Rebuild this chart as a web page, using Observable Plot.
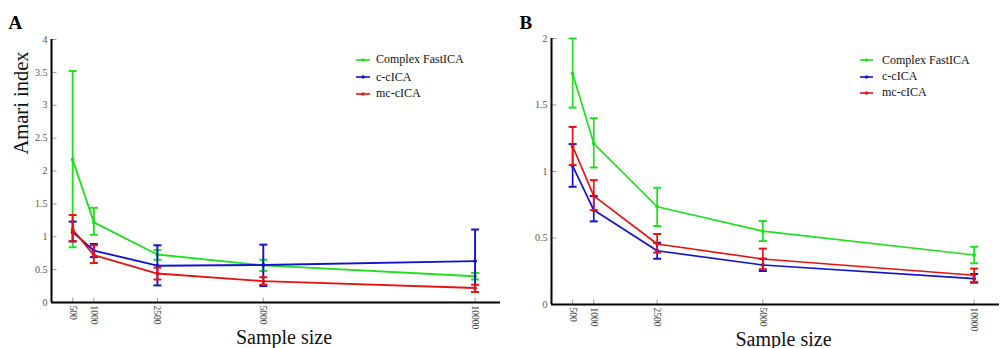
<!DOCTYPE html>
<html>
<head>
<meta charset="utf-8">
<script src="https://cdn.jsdelivr.net/npm/d3@7"></script>
<script src="https://cdn.jsdelivr.net/npm/@observablehq/plot@0.6"></script>
<style>
  html, body { margin: 0; padding: 0; background: #fff; }
  #wrap { position: relative; width: 1008px; height: 348px; overflow: hidden; font-family: "Liberation Serif", serif; }
  .panel { position: absolute; top: 0; }
  .legend { position: absolute; font-family: "Liberation Serif", serif; font-size: 12px; color: #111; }
  .legend .row { position: absolute; left: 0; height: 14px; white-space: nowrap; display: flex; align-items: center; }
  .legend span { font-family: "Liberation Serif", serif; }
  .legend svg { display: block; }
</style>
</head>
<body>
<div id="wrap"></div>
<script>
// ---- data ----
const sampleSizes = [500, 1000, 2500, 5000, 10000];
const seriesNames = ["Complex FastICA", "c-cICA", "mc-cICA"];
const seriesColors = ["#1fe01f", "#1212d2", "#e81212"];

const yTicksA = [0, 0.5, 1, 1.5, 2, 2.5, 3, 3.5, 4];
const yTicksB = [0, 0.5, 1, 1.5, 2];

// Panel A
const aFastMean = [2.175, 1.22, 0.73, 0.565, 0.40];
const aFastHi   = [3.52, 1.44, 0.80, 0.65, 0.45];
const aFastLo   = [0.84, 1.03, 0.65, 0.48, 0.35];
const aCMean    = [1.07, 0.79, 0.56, 0.57, 0.63];
const aCHi      = [1.23, 0.89, 0.87, 0.88, 1.11];
const aCLo      = [0.93, 0.69, 0.26, 0.25, 0.16];
const aMcMean   = [1.11, 0.72, 0.44, 0.325, 0.22];
const aMcHi     = [1.33, 0.87, 0.53, 0.385, 0.27];
const aMcLo     = [0.93, 0.60, 0.35, 0.27, 0.16];

// Panel B
const bFastMean = [1.737, 1.21, 0.735, 0.552, 0.372];
const bFastHi   = [2.0, 1.40, 0.878, 0.627, 0.434];
const bFastLo   = [1.48, 1.03, 0.59, 0.477, 0.31];
const bCMean    = [1.043, 0.71, 0.404, 0.297, 0.194];
const bCHi      = [1.206, 0.815, 0.464, 0.344, 0.229];
const bCLo      = [0.885, 0.625, 0.344, 0.252, 0.164];
const bMcMean   = [1.19, 0.817, 0.455, 0.342, 0.22];
const bMcHi     = [1.335, 0.935, 0.53, 0.42, 0.27];
const bMcLo     = [1.048, 0.71, 0.39, 0.265, 0.17];

function buildRows(means, his, los) {
  const rows = [];
  seriesNames.forEach((name, s) => {
    sampleSizes.forEach((n, i) => {
      rows.push({series: name, n, mean: means[s][i], hi: his[s][i], lo: los[s][i]});
    });
  });
  return rows;
}

const rowsA = buildRows([aFastMean, aCMean, aMcMean], [aFastHi, aCHi, aMcHi], [aFastLo, aCLo, aMcLo]);
const rowsB = buildRows([bFastMean, bCMean, bMcMean], [bFastHi, bCHi, bMcHi], [bFastLo, bCLo, bMcLo]);

// custom symbols
const capSymbol = { draw(ctx) { ctx.moveTo(-4, 0); ctx.lineTo(4, 0); } };
const xTickSymbol = { draw(ctx) { ctx.moveTo(0, 0); ctx.lineTo(0, -5); } };
const yTickSymbol = { draw(ctx) { ctx.moveTo(0, 0); ctx.lineTo(5, 0); } };

function makePanel(opts) {
  const {rows, yTicks, yMax, marginLeft, marginRight, marginTop, marginBottom, letter, letterDx, letterDy, yLabel, lineWidth, capWidth} = opts;
  const marks = [
    Plot.axisY(yTicks, {tickSize: 0, tickPadding: 4, fontSize: 10, fill: "#555", tickFormat: d => String(d), label: null}),
    Plot.axisX(sampleSizes, {tickSize: 0, tickPadding: 3, tickRotate: 90, fontSize: 9.5, fill: "#444", tickFormat: d => String(d), label: null}),
    Plot.dot(yTicks, {x: 0, y: d => d, symbol: yTickSymbol, stroke: "#999", strokeWidth: 1, r: 1}),
    Plot.dot(sampleSizes, {x: d => d, y: 0, symbol: xTickSymbol, stroke: "#999", strokeWidth: 1, r: 1}),
  ];
  seriesNames.forEach((name) => {
    const d = rows.filter(r => r.series === name);
    marks.push(
      Plot.line(d, {x: "n", y: "mean", stroke: "series", strokeWidth: lineWidth}),
      Plot.ruleX(d, {x: "n", y1: "lo", y2: "hi", stroke: "series", strokeWidth: lineWidth}),
      Plot.dot(d, {x: "n", y: "hi", symbol: capSymbol, stroke: "series", strokeWidth: capWidth, r: 1}),
      Plot.dot(d, {x: "n", y: "lo", symbol: capSymbol, stroke: "series", strokeWidth: capWidth, r: 1}),
      Plot.dot(d, {x: "n", y: "mean", fill: "series", r: 1.9})
    );
  });
  marks.push(
    Plot.ruleX([0], {stroke: "#000", strokeWidth: 2}),
    Plot.ruleY([0], {stroke: "#000", strokeWidth: 2}),
    Plot.text(["Sample size"], {frameAnchor: "bottom", text: d => d, dx: 8, dy: 41, lineAnchor: "bottom", fontSize: 20, fill: "#111"}),
    Plot.text([letter], {frameAnchor: "top-left", text: d => d, dx: letterDx, dy: letterDy, lineAnchor: "bottom", textAnchor: "start", fontSize: 19, fontWeight: "bold", fill: "#000"})
  );
  if (yLabel) {
    marks.push(Plot.text([yLabel], {frameAnchor: "left", text: d => d, dx: -24, dy: -16.5, rotate: -90, lineAnchor: "bottom", fontSize: 20.5, fill: "#111"}));
  }
  return Plot.plot({
    width: 504, height: 348,
    marginLeft, marginRight, marginTop, marginBottom,
    style: {fontFamily: "Liberation Serif, serif", background: "transparent", overflow: "visible"},
    x: {domain: [0, 10600], label: null},
    y: {domain: [0, yMax], label: null},
    color: {domain: seriesNames, range: seriesColors},
    marks
  });
}

const wrap = document.getElementById("wrap");

function addPanel(svg, left) {
  const div = document.createElement("div");
  div.className = "panel";
  div.style.left = left + "px";
  div.appendChild(svg);
  wrap.appendChild(div);
}

addPanel(makePanel({rows: rowsA, yTicks: yTicksA, yMax: 4, marginLeft: 51, marginRight: 4, marginTop: 39, marginBottom: 46,
  letter: "A", letterDx: -43, letterDy: -11, yLabel: "Amari index", lineWidth: 1.9, capWidth: 2}), 0);
addPanel(makePanel({rows: rowsB, yTicks: yTicksB, yMax: 2, marginLeft: 47, marginRight: 9, marginTop: 38, marginBottom: 44,
  letter: "B", letterDx: -32, letterDy: -10, yLabel: null, lineWidth: 1.7, capWidth: 2}), 504);

function addLegend(left, top, lineLen, textGap, rowTops) {
  const lg = document.createElement("div");
  lg.className = "legend";
  lg.style.left = left + "px";
  lg.style.top = top + "px";
  seriesNames.forEach((name, i) => {
    const row = document.createElement("div");
    row.className = "row";
    row.style.top = rowTops[i] + "px";
    const ns = "http://www.w3.org/2000/svg";
    const s = document.createElementNS(ns, "svg");
    s.setAttribute("width", lineLen + textGap);
    s.setAttribute("height", 14);
    const ln = document.createElementNS(ns, "line");
    ln.setAttribute("x1", 0); ln.setAttribute("x2", lineLen);
    ln.setAttribute("y1", 7); ln.setAttribute("y2", 7);
    ln.setAttribute("stroke", seriesColors[i]); ln.setAttribute("stroke-width", 1.6);
    const c = document.createElementNS(ns, "circle");
    c.setAttribute("cx", lineLen / 2); c.setAttribute("cy", 7); c.setAttribute("r", 1.7);
    c.setAttribute("fill", seriesColors[i]);
    s.appendChild(ln); s.appendChild(c);
    const t = document.createElement("span");
    t.textContent = name;
    row.appendChild(s); row.appendChild(t);
    lg.appendChild(row);
  });
  wrap.appendChild(lg);
}

addLegend(356, 0, 14, 6, [52.5, 70, 86.5]);
addLegend(860, 0, 13, 9, [53, 69.5, 85.5]);
</script>
</body>
</html>
